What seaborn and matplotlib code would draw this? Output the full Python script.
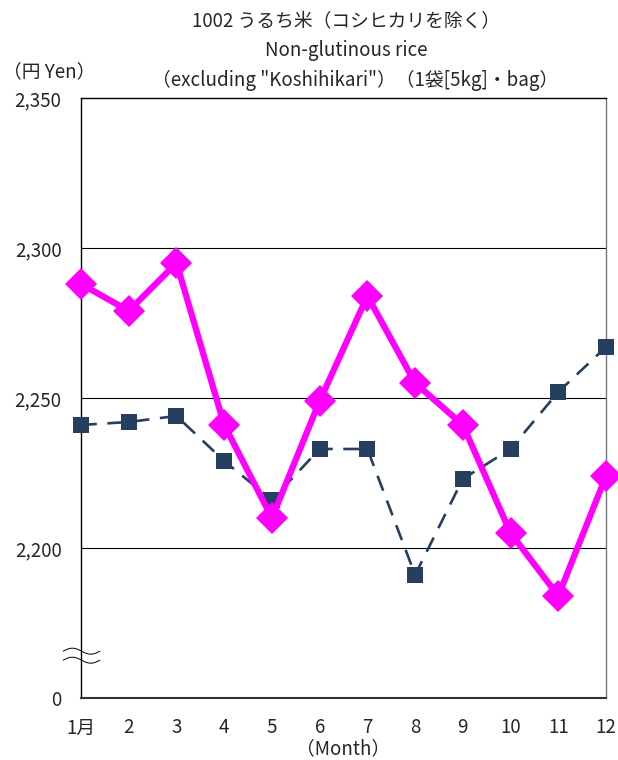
import numpy as np
import pandas as pd
import seaborn as sns
from matplotlib import pyplot as plt

# monthly prices (yen)
months = list(range(1, 13))
month_labels = ["1月", "2", "3", "4", "5", "6", "7", "8", "9", "10", "11", "12"]
magenta_vals = [2288, 2279, 2295, 2241, 2210, 2249, 2284, 2255, 2241, 2205, 2184, 2224]
navy_vals = [2241, 2242, 2244, 2229, 2216, 2233, 2233, 2191, 2223, 2233, 2252, 2267]
ytick_vals = [2150, 2200, 2250, 2300, 2350]
ytick_labels = ["0", "2,200", "2,250", "2,300", "2,350"]

sns.set_style("white")
plt.rcParams['font.family'] = ['Noto Sans CJK JP', 'DejaVu Sans']

df = pd.DataFrame({"month": months, "a": magenta_vals, "b": navy_vals})

fig = plt.figure(figsize=(6.18, 7.6), dpi=100)
ax = fig.add_axes([0.1311, 0.0816, 0.8495, 0.7895])

# gridlines
for v in [2200, 2250, 2300]:
    ax.axhline(v, color="black", lw=0.8, zorder=1)

sns.lineplot(data=df, x="month", y="b", ax=ax, color="#243F60", lw=1.9,
             linestyle=(0, (6, 4)), marker="s", markersize=11,
             markeredgewidth=0, zorder=3, clip_on=False)
sns.lineplot(data=df, x="month", y="a", ax=ax, color="#FF00FF", lw=4.5,
             marker="D", markersize=16, markeredgewidth=0, zorder=4, clip_on=False)

fs = 13.5
ax.set_xlim(1, 12)
ax.set_ylim(2150, 2350)
ax.set_xticks(months)
ax.set_xticklabels(month_labels, fontsize=fs)
ax.set_yticks(ytick_vals)
ax.set_yticklabels(ytick_labels, fontsize=fs)
ax.tick_params(axis="x", direction="in", length=5, width=1, color="#444444", pad=14)
ax.tick_params(axis="y", length=0, pad=14)
ax.set_ylabel("")
ax.set_xlabel("（Month）", fontsize=fs, labelpad=0)

for s in ["left", "top", "bottom"]:
    ax.spines[s].set_color("black")
ax.spines["left"].set_linewidth(1.0)
ax.spines["top"].set_linewidth(1.0)
ax.spines["bottom"].set_linewidth(1.5)
ax.spines["bottom"].set_color("#333333")
ax.spines["right"].set_color("#777777")
ax.spines["right"].set_linewidth(1.0)

# axis break marks
t = np.linspace(-0.034, 0.036, 60)
wave = 0.005 * np.sin((t + 0.034) / 0.07 * 2 * np.pi)
for y0 in [0.078, 0.063]:
    ax.plot(t, y0 + wave, color="black", lw=0.7, transform=ax.transAxes, clip_on=False)

fig.text(0.56, 0.972, "1002 うるち米（コシヒカリを除く）", ha="center", va="center", fontsize=fs)
fig.text(0.56, 0.933, "Non-glutinous rice", ha="center", va="center", fontsize=fs)
fig.text(0.575, 0.894, "（excluding \"Koshihikari\"）（1袋[5kg]・bag）", ha="center", va="center", fontsize=fs)
fig.text(0.005, 0.905, "（円 Yen）", ha="left", va="center", fontsize=fs)

plt.savefig("out.png", dpi=100)
